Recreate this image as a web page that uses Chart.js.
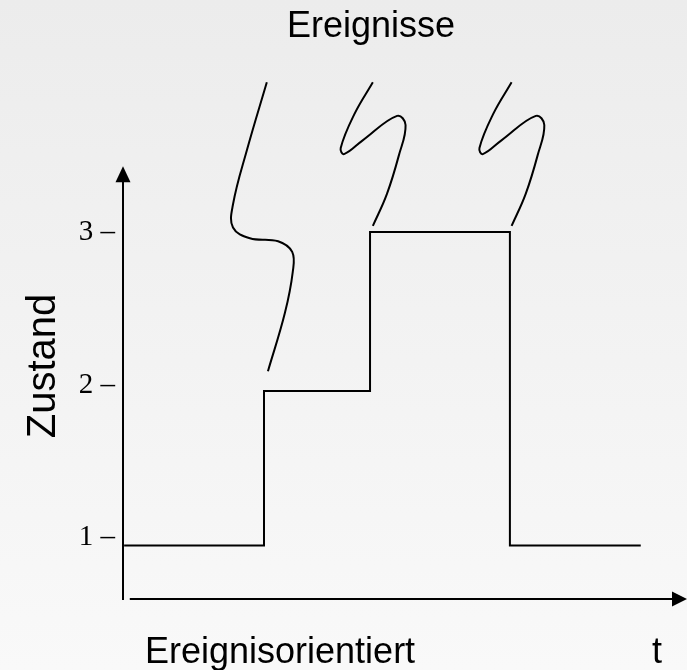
<!DOCTYPE html>
<html>
<head>
<meta charset="utf-8">
<script src="https://cdn.jsdelivr.net/npm/chart.js@4.4.1/dist/chart.umd.min.js"></script>
<style>
  html, body { margin: 0; padding: 0; }
  body { width: 687px; height: 670px; background: linear-gradient(#ececec, #f9f9f9); }
  #wrap { position: relative; width: 687px; height: 670px; }
</style>
</head>
<body>
<div id="wrap"><canvas id="chart"></canvas></div>
<script>
// step curve: state over time
const times = [0.2, 25, 43.8, 68.6, 91.8];
const states = [0.95, 1.96, 3.0, 0.95, 0.95];

// event squiggles, from the top down to the step they trigger
const event1T = [25.5, 22.0, 19.5, 19.5, 22.5, 27.5, 30.0, 30.1, 28.7, 25.7];
const event1S = [3.98, 3.54, 3.18, 3.03, 2.96, 2.94, 2.87, 2.74, 2.47, 2.09];
const event2T = [44.3, 41.0, 38.6, 39.2, 42.5, 48.6, 50.1, 48.9, 46.8, 44.3];
const event2S = [3.98, 3.77, 3.55, 3.51, 3.60, 3.76, 3.70, 3.50, 3.25, 3.04];
const event3T = [68.9, 65.6, 63.2, 63.8, 67.1, 73.2, 74.7, 73.5, 71.4, 68.9];
const event3S = [3.98, 3.77, 3.55, 3.51, 3.60, 3.76, 3.70, 3.50, 3.25, 3.04];

const stateTicks = [1, 2, 3];
const xAxisSpan = [1.2, 100];   // t range of the drawn time axis
const yAxisSpan = [0.6, 3.43];  // state range of the drawn state axis

const toPoints = (ts, ss) => ts.map((t, i) => ({ x: t, y: ss[i] }));

const sans = '"Liberation Sans", Arial, sans-serif';

// axes with arrow heads and the free labels
const sketchPlugin = {
  id: 'sketch',
  afterDatasetsDraw(chart) {
    const { ctx, scales: { x, y } } = chart;
    ctx.save();
    ctx.strokeStyle = '#000';
    ctx.fillStyle = '#000';
    ctx.lineWidth = 2;

    const x0 = x.getPixelForValue(0);
    const yBottom = y.getPixelForValue(yAxisSpan[0]);
    const yTop = y.getPixelForValue(yAxisSpan[1]);
    ctx.beginPath();
    ctx.moveTo(x0, yBottom + 1);
    ctx.lineTo(x0, yTop + 10);
    ctx.stroke();
    ctx.beginPath();
    ctx.moveTo(x0, yTop);
    ctx.lineTo(x0 - 7.5, yTop + 16);
    ctx.lineTo(x0 + 7.5, yTop + 16);
    ctx.closePath();
    ctx.fill();

    const xLeft = x.getPixelForValue(xAxisSpan[0]);
    const xRight = x.getPixelForValue(xAxisSpan[1]);
    const yx = y.getPixelForValue(yAxisSpan[0]);
    ctx.beginPath();
    ctx.moveTo(xLeft, yx);
    ctx.lineTo(xRight - 10, yx);
    ctx.stroke();
    ctx.beginPath();
    ctx.moveTo(xRight, yx);
    ctx.lineTo(xRight - 15, yx - 7.5);
    ctx.lineTo(xRight - 15, yx + 7.5);
    ctx.closePath();
    ctx.fill();

    ctx.font = '36px ' + sans;
    ctx.textBaseline = 'alphabetic';
    ctx.textAlign = 'center';
    ctx.fillText('Ereignisse', 371, 37);
    ctx.textAlign = 'left';
    ctx.fillText('Ereignisorientiert', 145, 663);
    ctx.fillText('t', 652, 663);

    ctx.translate(55, 366);
    ctx.rotate(-Math.PI / 2);
    ctx.font = '40px ' + sans;
    ctx.textAlign = 'center';
    ctx.fillText('Zustand', 0, 0);
    ctx.restore();
  }
};

const lineStyle = {
  borderColor: '#000',
  borderWidth: 2,
  pointRadius: 0,
  fill: false,
  clip: false
};

new Chart(document.getElementById('chart'), {
  type: 'line',
  data: {
    datasets: [
      { ...lineStyle, data: toPoints(times, states), stepped: true, borderJoinStyle: 'miter' },
      { ...lineStyle, data: toPoints(event1T, event1S), tension: 0.4 },
      { ...lineStyle, data: toPoints(event2T, event2S), tension: 0.4 },
      { ...lineStyle, data: toPoints(event3T, event3S), tension: 0.4 }
    ]
  },
  options: {
    responsive: true,
    maintainAspectRatio: false,
    animation: false,
    layout: { padding: { top: 70, right: 0, bottom: 71, left: 0 } },
    plugins: { legend: { display: false }, tooltip: { enabled: false } },
    scales: {
      x: { type: 'linear', min: 0, max: 100, display: false },
      y: {
        type: 'linear',
        min: 0.6,
        max: 4.06,
        grid: { display: false, drawTicks: false },
        border: { display: false },
        afterBuildTicks: s => { s.ticks = stateTicks.map(v => ({ value: v })); },
        afterFit: s => { s.width = 123; },
        ticks: {
          padding: 8,
          color: '#000',
          font: { family: '"Liberation Serif", "Times New Roman", serif', size: 29 },
          callback: v => v + ' –'
        }
      }
    }
  },
  plugins: [sketchPlugin]
});
</script>
</body>
</html>
